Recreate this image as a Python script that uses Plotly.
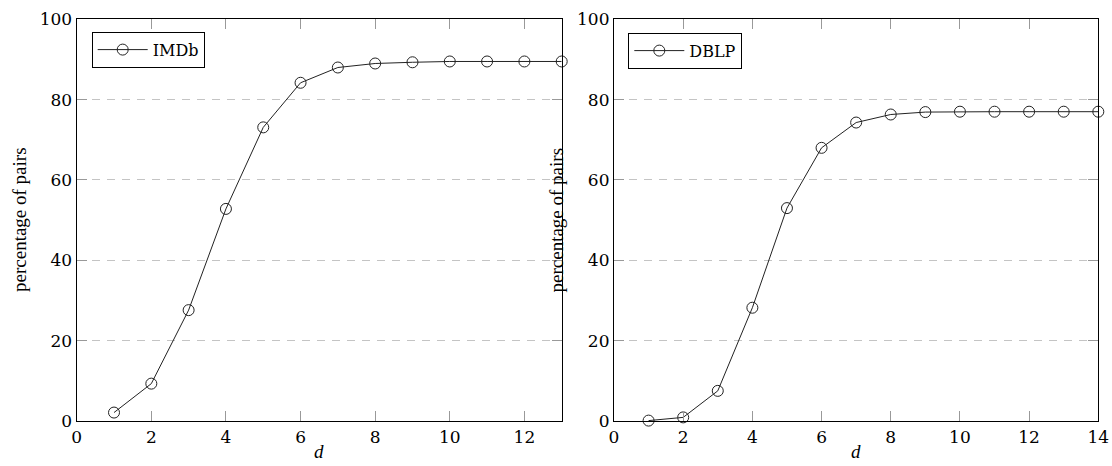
import plotly.graph_objects as go

# Data
d_imdb = [1, 2, 3, 4, 5, 6, 7, 8, 9, 10, 11, 12, 13]
pct_imdb = [2.1, 9.3, 27.6, 52.8, 73.1, 84.2, 88.0, 89.0, 89.3, 89.5, 89.5, 89.5, 89.5]

d_dblp = [1, 2, 3, 4, 5, 6, 7, 8, 9, 10, 11, 12, 13, 14]
pct_dblp = [0.1, 0.9, 7.5, 28.2, 53.0, 68.0, 74.3, 76.3, 76.9, 77.0, 77.0, 77.0, 77.0, 77.0]

x_ticks = [0, 2, 4, 6, 8, 10, 12, 14]
y_ticks = [0, 20, 40, 60, 80, 100]

FONT = "Liberation Serif"
TFONT = "DejaVu Serif"
W, H = 1112, 466

fig = go.Figure()

line_style = dict(color="#222222", width=1)
marker_style = dict(symbol="circle-open", size=11, color="#222222", line=dict(width=1, color="#222222"))

fig.add_trace(go.Scatter(x=d_imdb, y=pct_imdb, mode="lines+markers", name="IMDb",
                         line=line_style, marker=marker_style, cliponaxis=False,
                         xaxis="x", yaxis="y", legend="legend"))
fig.add_trace(go.Scatter(x=d_dblp, y=pct_dblp, mode="lines+markers", name="DBLP",
                         line=line_style, marker=marker_style, cliponaxis=False,
                         xaxis="x2", yaxis="y2", legend="legend2"))

def px_x(p):
    return p / W

def px_y(p):
    return 1 - p / H

common_x = dict(showline=True, linecolor="black", linewidth=1.2, mirror="ticks",
                ticks="inside", ticklen=10, tickwidth=1, tickcolor="#999999",
                showgrid=False, zeroline=False, tickvals=x_ticks, automargin=False,
                tickfont=dict(family=TFONT, size=17, color="black"))
common_y = dict(showline=True, linecolor="black", linewidth=1.2, mirror="ticks",
                ticks="inside", ticklen=10, tickwidth=1, tickcolor="#999999",
                showgrid=True, gridcolor="#c4c4c4", griddash="8px,7px", gridwidth=1,
                zeroline=False, tickvals=y_ticks, range=[0, 100], automargin=False,
                tickfont=dict(family=TFONT, size=17, color="black"))

top, bottom = px_y(19.3), px_y(421)

fig.update_layout(
    width=W, height=H,
    margin=dict(l=0, r=0, t=0, b=0),
    paper_bgcolor="white", plot_bgcolor="white",
    font=dict(family=FONT, size=19, color="black"),
    xaxis=dict(common_x, domain=[px_x(76.7), px_x(561.7)], range=[0, 13], anchor="y"),
    yaxis=dict(common_y, domain=[bottom, top], anchor="x"),
    xaxis2=dict(common_x, domain=[px_x(614), px_x(1098.3)], range=[0, 14], anchor="y2"),
    yaxis2=dict(common_y, domain=[bottom, top], anchor="x2"),
    legend=dict(x=px_x(91.7), y=px_y(31.7), xanchor="left", yanchor="top",
                bordercolor="black", borderwidth=1, bgcolor="white", itemwidth=50,
                font=dict(family=TFONT, size=16)),
    legend2=dict(x=px_x(628.3), y=px_y(32.7), xanchor="left", yanchor="top",
                 bordercolor="black", borderwidth=1, bgcolor="white", itemwidth=50,
                 font=dict(family=TFONT, size=16)),
    showlegend=True,
)

annots = [
    dict(text="percentage of pairs", x=px_x(19), y=px_y(220), textangle=-90),
    dict(text="percentage of pairs", x=px_x(555.5), y=px_y(220), textangle=-90),
    dict(text="<i>d</i>", x=px_x(319), y=px_y(451)),
    dict(text="<i>d</i>", x=px_x(856), y=px_y(451)),
]
for a in annots:
    fig.add_annotation(xref="paper", yref="paper", showarrow=False,
                       xanchor="center", yanchor="middle",
                       font=dict(family=FONT, size=19, color="black"), **a)

fig.write_html("out.html", config={"displayModeBar": False},
               post_script="document.body.style.margin='0';document.body.style.overflow='hidden';")
